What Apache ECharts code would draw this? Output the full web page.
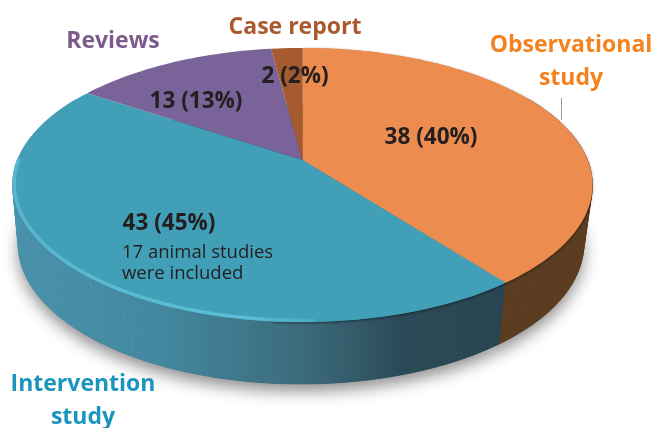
<!DOCTYPE html>
<html>
<head>
    <meta charset="utf-8"/>
    <title>Study types</title>
    <style>
        html, body { margin: 0; padding: 0; background: #fff; }
        #chart { width: 654px; height: 428px; }
    </style>
</head>
<body>
<div id="chart"></div>
<script src="https://cdn.jsdelivr.net/npm/echarts@6/dist/echarts.min.js"></script>
<script>
    // data, clockwise from 12 o'clock
    var categories = ['Observational\nstudy', 'Intervention\nstudy', 'Reviews', 'Case report'];
    var counts = [38, 43, 13, 2];
    var percents = [40, 45, 13, 2];
    var note = '17 animal studies\nwere included';

    var total = counts.reduce(function (a, b) { return a + b; }, 0);
    var fontName = '"Open Sans", "Noto Sans", sans-serif';
    var faceColors = ['#ec8c4f', '#41a0b8', '#796398', '#a65a2f'];
    var nameColors = ['#f5811f', '#1b95bd', '#7c5b8c', '#a9592b'];
    var wallFills = [
        '#5c3d20',
        { type: 'linear', global: true, x: 15, y: 0, x2: 500, y2: 0, colorStops: [
            { offset: 0, color: '#4a93ad' },
            { offset: 0.3, color: '#43889f' },
            { offset: 0.6, color: '#3c6a7b' },
            { offset: 0.8, color: '#2b4a57' },
            { offset: 1, color: '#2a4551' }
        ] },
        '#5a4a70',
        '#5c3d20'
    ];
    // label anchors (x, y of the middle of the first line)
    var namePos = [[571, 45], [83, 384], [113, 41], [295, 27]];
    var valuePos = [[431, 138], [169, 224], [196, 102], [295, 77]];

    // the pie is a circle seen in perspective, apex and ellipse don't share a centre
    var k = 0.182;
    var topRing = { cx: 302.5, cy: 160, rx: 285, ry: 132.5 };
    var baseRing = { cx: 301, cy: 219, rx: 278, ry: 135 };

    function project(ring, deg) {
        var a = deg * Math.PI / 180;
        var u = Math.sin(a), v = -Math.cos(a);
        var w = 1 - k * v;
        return [ring.cx + ring.rx * u / w, ring.cy + ring.ry * v / w];
    }

    function arc(ring, from, to) {
        var pts = [];
        var n = Math.max(2, Math.ceil((to - from) / 1.5));
        for (var i = 0; i <= n; i++) {
            pts.push(project(ring, from + (to - from) * i / n));
        }
        return pts;
    }

    function sliceRange(index) {
        var before = 0;
        for (var i = 0; i < index; i++) before += counts[i];
        return [before / total * 360, (before + counts[index]) / total * 360];
    }

    function sector(ring, r) {
        return [[ring.cx, ring.cy]].concat(arc(ring, r[0], r[1]));
    }

    function layer(name, z, draw) {
        return {
            type: 'custom',
            name: name,
            coordinateSystem: 'none',
            silent: true,
            animation: false,
            z: z,
            data: counts,
            renderItem: function (params) {
                return draw(params.dataIndex, sliceRange(params.dataIndex));
            }
        };
    }

    var series = [
        // soft shadow under the disc
        layer('base', 1, function (i, r) {
            return {
                type: 'polygon',
                shape: { points: sector(baseRing, r) },
                style: { fill: '#3a4a50', shadowBlur: 16, shadowOffsetY: 7, shadowColor: 'rgba(0,0,0,0.45)' }
            };
        }),
        // wall as strips so the outline at the far left and right stays closed
        layer('wall', 2, function (i, r) {
            var front = Math.max(r[0], 60), back = Math.min(r[1], 300);
            if (back <= front) return null;
            var upper = arc(topRing, front, back), lower = arc(baseRing, front, back);
            var strips = [];
            for (var n = 0; n < upper.length - 1; n++) {
                strips.push({
                    type: 'polygon',
                    shape: { points: [upper[n], upper[n + 1], lower[n + 1], lower[n]] },
                    style: { fill: wallFills[i], stroke: wallFills[i], lineWidth: 0.6 }
                });
            }
            return { type: 'group', children: strips };
        }),
        // blurred dark edge, only on the right hand side, the left has the light rim
        layer('faceEdge', 3, function (i, r) {
            if (i > 1) return null;
            var to = i === 0 ? r[1] : 185;
            return {
                type: 'polygon',
                shape: { points: [[topRing.cx, topRing.cy]].concat(arc(topRing, r[0], to)) },
                style: { fill: faceColors[i], shadowBlur: 3, shadowOffsetY: 1, shadowColor: 'rgba(0,0,0,0.55)' }
            };
        }),
        layer('face', 4, function (i, r) {
            return {
                type: 'polygon',
                shape: { points: sector(topRing, r) },
                style: { fill: faceColors[i] }
            };
        }),
        // light rim on the left front of the intervention slice
        layer('rim', 5, function (i, r) {
            if (i !== 1) return null;
            var inner = { cx: topRing.cx, cy: topRing.cy - 1.5, rx: topRing.rx - 1.5, ry: topRing.ry };
            return {
                type: 'polyline',
                shape: { points: arc(inner, 178, 270) },
                style: {
                    fill: 'none',
                    lineWidth: 3.5,
                    stroke: { type: 'linear', global: true, x: 14, y: 0, x2: 350, y2: 0, colorStops: [
                        { offset: 0, color: '#58b6cf' },
                        { offset: 0.7, color: '#5cbdd6' },
                        { offset: 1, color: 'rgba(92,189,214,0)' }
                    ] }
                }
            };
        }),
        layer('labels', 6, function (i) {
            var children = [];
            categories[i].split('\n').forEach(function (line, n) {
                children.push({
                    type: 'text',
                    style: {
                        text: line, x: namePos[i][0], y: namePos[i][1] + n * 33,
                        align: 'center', verticalAlign: 'middle',
                        font: '700 23px ' + fontName, fill: nameColors[i]
                    }
                });
            });
            children.push({
                type: 'text',
                style: {
                    text: counts[i] + ' (' + percents[i] + '%)', x: valuePos[i][0], y: valuePos[i][1],
                    align: 'center', verticalAlign: 'middle',
                    font: '700 22.5px ' + fontName, fill: '#231f20'
                }
            });
            if (i === 1) {
                note.split('\n').forEach(function (line, n) {
                    children.push({
                        type: 'text',
                        style: {
                            text: line, x: 122, y: 253 + n * 21,
                            align: 'left', verticalAlign: 'middle',
                            font: '400 18.5px ' + fontName, fill: '#231f20'
                        }
                    });
                });
            }
            return { type: 'group', children: children };
        })
    ];

    var myChart = echarts.init(document.getElementById('chart'), null, { renderer: 'canvas' });
    myChart.setOption({
        animation: false,
        backgroundColor: '#fff',
        graphic: [{
            type: 'line',
            z: 10,
            shape: { x1: 561.5, y1: 98, x2: 561.5, y2: 120 },
            style: { stroke: '#9a9a9a', lineWidth: 1 }
        }],
        series: series
    });
</script>
</body>
</html>
